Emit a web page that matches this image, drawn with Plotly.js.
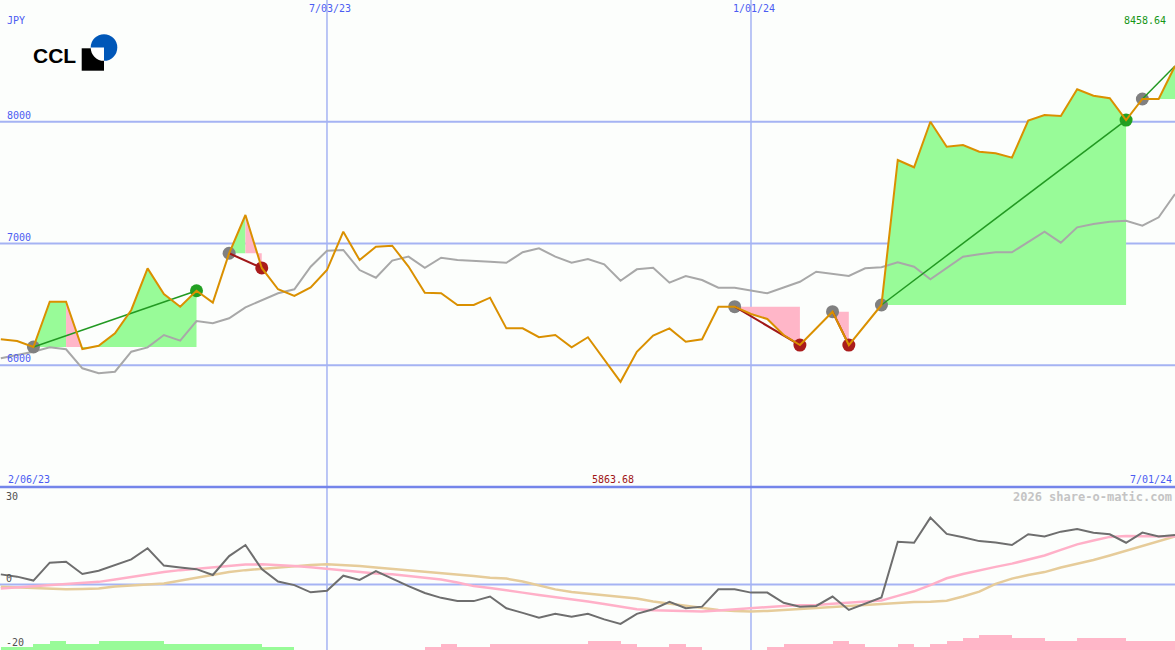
<!DOCTYPE html>
<html><head><meta charset="utf-8">
<script src="https://cdn.plot.ly/plotly-3.0.1.min.js"></script>
<style>html,body{margin:0;padding:0;background:#fcfefc}#chart{width:1175px;height:650px}</style>
</head><body><div id="chart"></div>
<script>
// ---- data (weekly, 73 points) ----
const price = [6213,6199,6150,6522,6522,6133,6160,6262,6454,6796,
  6585,6481,6612,6514,6920,7234,6799,6624,6569,6640,
  6782,7097,6864,6974,6982,6811,6596,6591,6495,6495,
  6555,6303,6303,6230,6248,6147,6230,6043,5863.68,6111,
  6243,6303,6193,6213,6481,6481,6421,6380,6248,6166,
  6306,6440,6166,6331,6495,7686,7626,8000,7795,7809,
  7754,7741,7705,8009,8055,8047,8267,8214,8193,8014,
  8187,8187,8458.64];
const relIndex = [6057,6084,6111,6147,6131,5975,5934,5947,6111,6147,
  6248,6202,6363,6345,6386,6476,6536,6591,6624,6809,
  6941,6947,6782,6719,6860,6892,6801,6883,6864,6859,
  6850,6842,6928,6961,6892,6842,6873,6829,6694,6788,
  6801,6678,6733,6700,6637,6637,6612,6591,6639,6686,
  6768,6750,6733,6796,6805,6846,6809,6706,6796,6892,
  6911,6928,6928,7015,7097,7007,7133,7160,7179,7187,
  7146,7215,7407];
const momentum = [3.1,2.4,1.2,6.7,7.0,3.2,4.2,6.0,7.7,11.1,
  5.8,5.2,4.7,2.9,8.7,12.1,4.7,0.9,-0.2,-2.4,
  -1.9,2.7,1.4,4.1,1.7,-0.5,-2.6,-4.1,-5.1,-5.1,
  -3.7,-7.3,-8.7,-10.2,-9.0,-9.9,-9.0,-10.7,-12.1,-9.0,
  -7.6,-5.3,-7.3,-6.8,-1.5,-1.5,-2.5,-2.5,-5.6,-6.8,
  -6.6,-3.7,-7.8,-6.0,-4.0,13.1,12.8,20.5,15.5,14.5,
  13.3,12.9,12.1,15.4,14.7,16.2,17.0,15.9,15.4,12.8,
  15.9,14.7,15.2];
const avgFast = [-1.2,-0.9,-0.6,-0.3,0,0.3,0.8,1.5,2.3,3.1,
  3.8,4.4,4.8,5.3,5.7,6.1,6.2,6.0,5.7,5.3,
  4.8,4.4,4.0,3.4,3.1,2.6,2.1,1.5,0.6,-0.5,
  -1.1,-1.7,-2.5,-3.2,-3.8,-4.4,-5.2,-6.0,-6.7,-7.6,
  -7.9,-8.0,-8.2,-8.3,-8.0,-7.6,-7.2,-6.8,-6.6,-6.4,
  -6.3,-5.9,-5.5,-5.2,-4.9,-3.5,-2.1,-0.2,1.9,3.2,
  4.4,5.4,6.4,7.7,8.9,10.6,12.3,13.5,14.6,14.9,
  14.9,14.8,14.7];
const avgSlow = [-0.7,-0.9,-1.2,-1.5,-1.5,-1.4,-1.2,-0.6,-0.2,0,
  0.3,1.2,2.1,3.1,3.8,4.4,4.8,5.2,5.7,6.0,
  6.2,6.0,5.7,5.2,4.8,4.4,3.8,3.4,3.1,2.6,
  2.1,1.8,0.9,-0.3,-1.5,-2.3,-2.8,-3.1,-3.7,-4.3,
  -5.2,-5.8,-6.6,-7.2,-7.8,-8.1,-8.3,-8.1,-7.8,-7.5,
  -7.0,-6.7,-6.6,-6.3,-5.8,-5.5,-5.4,-5.3,-5.0,-3.7,
  -2.2,0.2,1.8,2.9,3.8,5.2,6.3,7.5,8.9,10.4,
  11.8,13.3,14.7];
// signed volume bars: + green, - pink (72 weekly bars)
const volume = [0.85,0.85,1.85,2.8,1.85,1.85,2.8,2.8,2.8,2.8,
  1.85,1.85,1.85,1.85,1.85,1.85,0.85,0.85,0,0,
  0,0,0,0,0,0,-0.85,-1.85,-0.85,-0.85,
  -1.85,-1.85,-1.85,-1.85,-1.85,-1.85,-2.8,-2.8,-1.85,-0.85,
  -0.85,-1.85,-0.85,0,0,0,0,-0.85,-1.85,-1.85,
  -1.85,-2.8,-1.85,-0.85,-0.85,-1.85,-0.85,-1.85,-2.8,-3.6,
  -4.6,-4.6,-3.6,-3.6,-2.8,-2.8,-3.6,-3.6,-3.6,-2.8,
  -2.8,-2.8];
const gridLevels = [6000,7000,8000];
const markIdx = [20,46];
const markLabels = ['7/03/23','1/01/24'];
const startLabel = '2/06/23', endLabel = '7/01/24', currency = 'JPY';
const tradeEntry = [2,14,45,51,54,70];
const tradeExit  = [12,16,49,52,69,72];
const tradeClosed = [1,1,1,1,1,0];
const shadeFrom  = [2,4,5,14,15,45,51,54,70];
const shadeTo    = [4,5,12,15,16,49,52,69,72];
const shadeBase  = [2,2,2,14,14,45,51,54,70];
const shadeColor = ['g','p','g','g','p','p','p','g','g'];

// ---- build ----
const W=1175,H=650, split=163/650;
const lowRange=[-20.1,29.9];
const idx = price.map((_,i)=>i);
const GREEN_FILL='#98fb98', PINK_FILL='#ffb6c8';
const traces=[];
for(let s=0;s<shadeFrom.length;s++){
  const xs=[],ys=[];
  for(let i=shadeFrom[s];i<=shadeTo[s];i++){xs.push(i);ys.push(price[i]);}
  const b=price[shadeBase[s]];
  xs.push(shadeTo[s],shadeFrom[s]); ys.push(b,b);
  traces.push({x:xs,y:ys,type:'scatter',mode:'lines',fill:'toself',
    fillcolor:shadeColor[s]==='g'?GREEN_FILL:PINK_FILL,line:{width:0},hoverinfo:'skip'});
}
traces.push({type:'bar',x:volume.map((v,i)=>i+0.5),y:volume.map(v=>Math.abs(v)),base:lowRange[0],
  width:1,marker:{color:volume.map(v=>v>=0?GREEN_FILL:PINK_FILL),line:{width:0}},yaxis:'y2',hoverinfo:'skip'});
traces.push({x:idx,y:avgSlow,yaxis:'y2',type:'scatter',mode:'lines',line:{color:'#e6cc9a',width:2.5}});
traces.push({x:idx,y:avgFast,yaxis:'y2',type:'scatter',mode:'lines',line:{color:'#ffb0c8',width:2.5}});
traces.push({x:idx,y:momentum,yaxis:'y2',type:'scatter',mode:'lines',line:{color:'#6e6e6e',width:2}});
traces.push({x:idx,y:relIndex,type:'scatter',mode:'lines',line:{color:'#a8a8a8',width:2}});
const exitX=[],exitY=[],exitC=[];
tradeExit.forEach((e,t)=>{ if(tradeClosed[t]){exitX.push(e);exitY.push(price[e]);
  exitC.push(price[e]>price[tradeEntry[t]]?'#22a022':'#aa1c1c');}});
traces.push({x:tradeEntry,y:tradeEntry.map(i=>price[i]),type:'scatter',mode:'markers',
  marker:{size:13,color:'#808080'}});
traces.push({x:exitX,y:exitY,type:'scatter',mode:'markers',marker:{size:13,color:exitC}});
tradeEntry.forEach((e,t)=>{
  const x1=tradeExit[t];
  const win=price[x1]>price[e];
  traces.push({x:[e,x1],y:[price[e],price[x1]],type:'scatter',mode:'lines',
    line:{color:win?'#229922':'#a01818',width:win?1.5:2}});
});
traces.push({x:idx,y:price,type:'scatter',mode:'lines',line:{color:'#da9000',width:2}});

const GRID='#a5b3f3';
const shapes=[];
gridLevels.forEach(v=>shapes.push({type:'line',xref:'paper',x0:0,x1:1,yref:'y',y0:v,y1:v,line:{color:GRID,width:2},layer:'below'}));
shapes.push({type:'line',xref:'paper',x0:0,x1:1,yref:'y2',y0:0,y1:0,line:{color:GRID,width:2},layer:'below'});
markIdx.forEach(i=>shapes.push({type:'line',xref:'x',x0:i,x1:i,yref:'paper',y0:0,y1:1,line:{color:GRID,width:1.5},layer:'below'}));
shapes.push({type:'line',xref:'paper',x0:0,x1:1,yref:'paper',y0:split,y1:split,line:{color:'#7485ea',width:2.5},layer:'below'});

const MONO='DejaVu Sans Mono, monospace';
const BLUE='#4b5cf2';
const px=x=>x/W, py=y=>1-y/H;
const ann=[];
function A(o){ann.push(Object.assign({showarrow:false,font:{family:MONO,size:10,color:BLUE},borderpad:0},o));}
A({text:currency,xref:'paper',x:px(6),xanchor:'left',yref:'paper',y:py(21),yanchor:'middle'});
gridLevels.forEach(v=>A({text:String(v),xref:'paper',x:px(6),xanchor:'left',yref:'y',y:v,yanchor:'bottom',yshift:0}));
markIdx.forEach((i,k)=>A({text:markLabels[k],xref:'x',x:i,xanchor:'center',xshift:3,yref:'paper',y:py(8),yanchor:'middle'}));
const maxV=Math.max(...price), minV=Math.min(...price), minI=price.indexOf(minV);
A({text:maxV.toFixed(2),xref:'paper',x:px(1167),xanchor:'right',yref:'paper',y:py(21),yanchor:'middle',font:{family:MONO,size:10,color:'#169616'}});
A({text:startLabel,xref:'paper',x:px(7),xanchor:'left',yref:'paper',y:py(479),yanchor:'middle'});
A({text:minV.toFixed(2),xref:'x',x:minI,xshift:-8,xanchor:'center',yref:'paper',y:py(479),yanchor:'middle',font:{family:MONO,size:10,color:'#a01414'}});
A({text:endLabel,xref:'paper',x:px(1173),xanchor:'right',yref:'paper',y:py(479),yanchor:'middle'});
A({text:'30',xref:'paper',x:px(5),xanchor:'left',yref:'paper',y:py(496),yanchor:'middle',font:{family:MONO,size:10,color:'#505050'}});
A({text:'0',xref:'paper',x:px(5),xanchor:'left',yref:'paper',y:py(578),yanchor:'middle',font:{family:MONO,size:10,color:'#505050'}});
A({text:'-20',xref:'paper',x:px(5),xanchor:'left',yref:'paper',y:py(642),yanchor:'middle',font:{family:MONO,size:10,color:'#505050'}});
A({text:'<b>2026 share-o-matic.com</b>',xref:'paper',x:px(1173),xanchor:'right',yref:'paper',y:py(496.5),yanchor:'middle',font:{family:MONO,size:12,color:'#c4c4c4'}});
A({text:'<b>CCL</b>',xref:'paper',x:px(32),xanchor:'left',yref:'paper',y:py(56),yanchor:'middle',font:{family:'Liberation Sans, Arial, sans-serif',size:21,color:'#000'}});

const svg='<svg xmlns="http://www.w3.org/2000/svg" width="40" height="40" viewBox="0 0 40 40">'+
 '<circle cx="24" cy="14.5" r="13.3" fill="#0057b8"/>'+
 '<rect x="1.7" y="15.3" width="22.3" height="22.4" fill="#000"/>'+
 '<path d="M24 14.5 L10.7 14.5 A13.3 13.3 0 0 0 24 27.8 Z" fill="#fff"/></svg>';
const images=[{source:'data:image/svg+xml;charset=utf-8,'+encodeURIComponent(svg),xref:'paper',yref:'paper',
  x:px(80),y:py(33),sizex:40/W,sizey:40/H,xanchor:'left',yanchor:'top',sizing:'stretch',layer:'above'}];

const layout={width:W,height:H,margin:{l:0,r:0,t:0,b:0,pad:0},paper_bgcolor:'#fcfefc',plot_bgcolor:'#fcfefc',
  showlegend:false,bargap:0,hovermode:false,
  xaxis:{range:[-0.05,72.0],visible:false,fixedrange:true},
  yaxis:{domain:[split,1],range:[5000,9000],visible:false,fixedrange:true},
  yaxis2:{domain:[0,split],range:lowRange,visible:false,fixedrange:true},
  shapes:shapes,annotations:ann,images:images};
Plotly.newPlot('chart',traces,layout,{staticPlot:true,displayModeBar:false});
</script></body></html>
